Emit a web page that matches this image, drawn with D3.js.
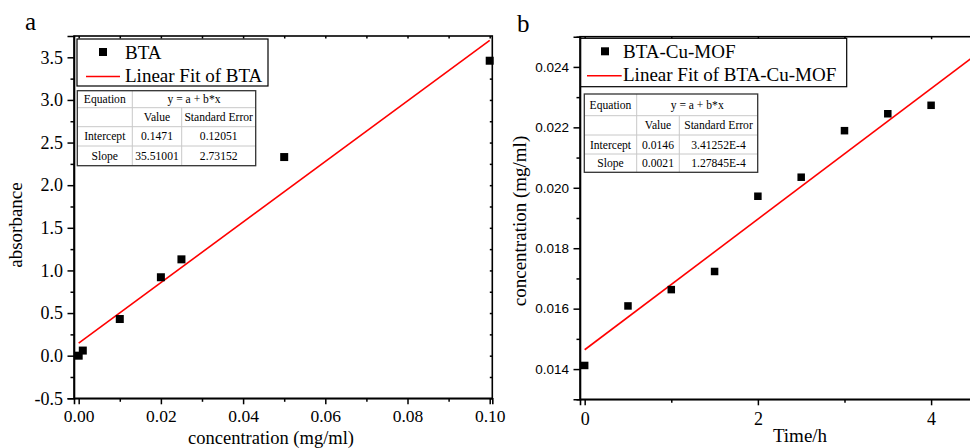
<!DOCTYPE html>
<html>
<head>
<meta charset="utf-8">
<script src="https://cdn.jsdelivr.net/npm/d3@7"></script>
<style>
  body { margin: 0; background: #fff; }
  svg { display: block; }
  .serif { font-family: "Liberation Serif", "Times New Roman", serif; }
  .sans { font-family: "Liberation Sans", Arial, sans-serif; }
</style>
</head>
<body>
<div id="chart"></div>
<script>

// panel a: BTA calibration
var concA = [0, 0.001, 0.01, 0.02, 0.025, 0.05, 0.1];
var absA = [0, 0.06, 0.43, 0.92, 1.13, 2.33, 3.46];
var fitA = [0.1471, 35.51001];          // intercept, slope
var fitRangeA = [0, 0.1];
var xTicksA = [0, 0.02, 0.04, 0.06, 0.08, 0.1];
var xMinorA = [0.01, 0.03, 0.05, 0.07, 0.09];
var yTicksA = [-0.5, 0, 0.5, 1, 1.5, 2, 2.5, 3, 3.5];
var yMinorA = [-0.25, 0.25, 0.75, 1.25, 1.75, 2.25, 2.75, 3.25];
var tableA = [
  ["Equation", "y = a + b*x"],
  ["", "Value", "Standard Error"],
  ["Intercept", "0.1471", "0.12051"],
  ["Slope", "35.51001", "2.73152"]
];

// panel b: BTA-Cu-MOF release
var timeB = [0, 0.5, 1, 1.5, 2, 2.5, 3, 3.5, 4];
var concB = [0.01412, 0.01609, 0.01663, 0.01723, 0.01972, 0.02035, 0.02189, 0.02245, 0.02273];
var fitB = [0.01464, 0.00216];
var fitRangeB = [0, 4.5];
var xTicksB = [0, 2, 4];
var xMinorB = [1, 3];
var yTicksB = [0.014, 0.016, 0.018, 0.020, 0.022, 0.024];
var yMinorB = [0.013, 0.015, 0.017, 0.019, 0.021, 0.023, 0.025];
var tableB = [
  ["Equation", "y = a + b*x"],
  ["", "Value", "Standard Error"],
  ["Intercept", "0.0146", "3.41252E-4"],
  ["Slope", "0.0021", "1.27845E-4"]
];

var svgWidth = 970;
var svgHeight = 448;

var svg = d3.select("#chart")
  .append("svg")
  .attr("width", svgWidth)
  .attr("height", svgHeight);

// scales
var xA = d3.scaleLinear().domain([-0.00114, 0.10063]).range([74, 492.3]);
var yA = d3.scaleLinear().domain([-0.5, 3.75]).range([398.3, 36]);
var xB = d3.scaleLinear().domain([-0.054, 4.5]).range([580, 974.4]);
var yB = d3.scaleLinear().domain([0.013, 0.025]).range([399.3, 36.7]);

// plain hyphen minus, like the original plot
var fmt1 = d => d3.format(".1f")(d).replace("\u2212", "-");


function drawAxes(x, y, o) {
  var g = svg.append("g");
  var x0 = x.range()[0], x1 = x.range()[1];
  var y0 = y.range()[0], y1 = y.range()[1];

  // bottom axis, major + minor
  var bottom = g.append("g")
    .attr("transform", `translate(0, ${y0})`)
    .call(d3.axisBottom(x).tickValues(o.xTicks).tickSize(6).tickPadding(o.xPad).tickFormat(o.xFormat));
  bottom.selectAll("text").attr("class", o.xFont).style("font-size", o.xSize + "px").attr("fill", "#000");
  g.append("g")
    .attr("transform", `translate(0, ${y0})`)
    .call(d3.axisBottom(x).tickValues(o.xMinor).tickSize(3.5).tickFormat(""))
    .select(".domain").remove();

  var left = g.append("g")
    .attr("transform", `translate(${x0}, 0)`)
    .call(d3.axisLeft(y).tickValues(o.yTicks).tickSize(6.5).tickPadding(o.yPad).tickFormat(o.yFormat));
  left.selectAll("text").attr("class", o.yFont).style("font-size", o.ySize + "px").attr("fill", "#000");
  g.append("g")
    .attr("transform", `translate(${x0}, 0)`)
    .call(d3.axisLeft(y).tickValues(o.yMinor).tickSize(3.5).tickFormat(""))
    .select(".domain").remove();

  // top + right, small inward ticks
  g.append("g")
    .attr("transform", `translate(0, ${y1})`)
    .call(d3.axisBottom(x).tickValues(o.xTicks.concat(o.xMinor)).tickSize(2.5).tickFormat(""))
    .select(".domain").remove();
  g.append("g")
    .attr("transform", `translate(${x1}, 0)`)
    .call(d3.axisLeft(y).tickValues(o.yTicks.concat(o.yMinor)).tickSize(2.5).tickFormat(""))
    .select(".domain").remove();

  g.append("rect")
    .attr("x", x0).attr("y", y1)
    .attr("width", x1 - x0).attr("height", y0 - y1)
    .attr("fill", "none")
    .attr("stroke", "#000")
    .attr("stroke-width", 1.6);

  g.selectAll(".tick line").attr("stroke", "#000").attr("stroke-width", 1.5);
  g.selectAll(".domain").attr("stroke", "#000").attr("stroke-width", 1.6);
}

function drawLegend(b, name) {
  var lg = svg.append("g").attr("class", "serif");
  lg.append("rect")
    .attr("x", b.x).attr("y", b.y).attr("width", b.w).attr("height", b.h)
    .attr("fill", "#fff").attr("stroke", "#000").attr("stroke-width", 1.2);
  lg.append("rect")
    .attr("x", b.sx - 4).attr("y", b.y + 13 - 4).attr("width", 8).attr("height", 8)
    .attr("fill", "#000");
  lg.append("text").attr("x", b.tx).attr("y", b.y + 19.5)
    .style("font-size", "19px").text(name);
  lg.append("line")
    .attr("x1", b.lx0).attr("x2", b.lx1).attr("y1", b.y + 37.5).attr("y2", b.y + 37.5)
    .attr("stroke", "red").attr("stroke-width", 1.6);
  lg.append("text").attr("x", b.tx).attr("y", b.y + 43)
    .style("font-size", "19px").text("Linear Fit of " + name);
}

function drawTable(rows, cols, rowsY) {
  var tg = svg.append("g").attr("class", "serif");
  var left = cols[0], right = cols[cols.length - 1];
  var top = rowsY[0], bot = rowsY[rowsY.length - 1];
  tg.append("rect")
    .attr("x", left).attr("y", top).attr("width", right - left).attr("height", bot - top)
    .attr("fill", "#fff");
  // inner grid
  rowsY.slice(1, -1).forEach(function(ry) {
    tg.append("line").attr("x1", left).attr("x2", right).attr("y1", ry).attr("y2", ry)
      .attr("stroke", "#c8c8c8").attr("stroke-width", 1);
  });
  tg.append("line").attr("x1", cols[1]).attr("x2", cols[1]).attr("y1", top).attr("y2", bot)
    .attr("stroke", "#c8c8c8").attr("stroke-width", 1);
  tg.append("line").attr("x1", cols[2]).attr("x2", cols[2]).attr("y1", rowsY[1]).attr("y2", bot)
    .attr("stroke", "#c8c8c8").attr("stroke-width", 1);
  tg.append("rect")
    .attr("x", left).attr("y", top).attr("width", right - left).attr("height", bot - top)
    .attr("fill", "none").attr("stroke", "#333").attr("stroke-width", 1.3);

  rows.forEach(function(r, i) {
    var cy = (rowsY[i] + rowsY[i + 1]) / 2;
    r.forEach(function(t, j) {
      var cx;
      if (i == 0 && j == 1) cx = (cols[1] + cols[3]) / 2;
      else cx = (cols[j] + cols[j + 1]) / 2;
      tg.append("text")
        .attr("x", cx).attr("y", cy)
        .attr("dy", "0.35em")
        .attr("text-anchor", "middle")
        .style("font-size", "11.6px")
        .text(t);
    });
  });
}


// ---------- panel a ----------
drawAxes(xA, yA, {
  xTicks: xTicksA, xMinor: xMinorA, xFormat: d3.format(".2f"), xPad: 5, xFont: "serif", xSize: 17.5,
  yTicks: yTicksA, yMinor: yMinorA, yFormat: fmt1, yPad: 4.5, yFont: "serif", ySize: 18
});

svg.append("line")
  .attr("x1", xA(fitRangeA[0])).attr("y1", yA(fitA[0] + fitA[1] * fitRangeA[0]))
  .attr("x2", xA(fitRangeA[1])).attr("y2", yA(fitA[0] + fitA[1] * fitRangeA[1]))
  .attr("stroke", "red").attr("stroke-width", 1.6);

svg.append("g").selectAll("rect")
  .data(concA)
  .enter()
  .append("rect")
  .attr("x", (d, i) => xA(d) - 4)
  .attr("y", (d, i) => yA(absA[i]) - 4)
  .attr("width", 8).attr("height", 8)
  .attr("fill", "#000");

drawLegend({x: 77, y: 39, w: 191, h: 47, sx: 103, tx: 125, lx0: 86, lx1: 120}, "BTA");
drawTable(tableA, [77.3, 132.3, 181.7, 255.7], [90.7, 107.7, 126.7, 146, 165.7]);

svg.append("text").attr("class", "serif")
  .attr("x", 25).attr("y", 30)
  .style("font-size", "25px").text("a");

svg.append("text").attr("class", "serif")
  .attr("transform", "translate(22, 225) rotate(-90)")
  .attr("text-anchor", "middle")
  .style("font-size", "19px")
  .text("absorbance");

svg.append("text").attr("class", "serif")
  .attr("x", 271).attr("y", 444)
  .attr("text-anchor", "middle")
  .style("font-size", "18.5px")
  .text("concentration (mg/ml)");


// ---------- panel b ----------
drawAxes(xB, yB, {
  xTicks: xTicksB, xMinor: xMinorB, xFormat: d3.format("d"), xPad: 7, xFont: "serif", xSize: 18,
  yTicks: yTicksB, yMinor: yMinorB, yFormat: d3.format(".3f"), yPad: 4.5, yFont: "sans", ySize: 13.5
});

svg.append("line")
  .attr("x1", xB(fitRangeB[0])).attr("y1", yB(fitB[0] + fitB[1] * fitRangeB[0]))
  .attr("x2", xB(fitRangeB[1])).attr("y2", yB(fitB[0] + fitB[1] * fitRangeB[1]))
  .attr("stroke", "red").attr("stroke-width", 1.6);

svg.append("g").selectAll("rect")
  .data(timeB)
  .enter()
  .append("rect")
  .attr("x", (d, i) => xB(d) - 3.75)
  .attr("y", (d, i) => yB(concB[i]) - 3.75)
  .attr("width", 7.5).attr("height", 7.5)
  .attr("fill", "#000");

drawLegend({x: 580.7, y: 38.3, w: 266, h: 48.4, sx: 605, tx: 623, lx0: 587, lx1: 621.7}, "BTA-Cu-MOF");
drawTable(tableB, [584.3, 636.7, 679.3, 757.7], [94, 115.7, 135, 154, 172.3]);

svg.append("text").attr("class", "serif")
  .attr("x", 517).attr("y", 31.5)
  .style("font-size", "25px").text("b");

svg.append("text").attr("class", "serif")
  .attr("transform", "translate(526, 221) rotate(-90)")
  .attr("text-anchor", "middle")
  .style("font-size", "19px")
  .text("concentration (mg/ml)");

svg.append("text").attr("class", "serif")
  .attr("x", 800).attr("y", 442)
  .attr("text-anchor", "middle")
  .style("font-size", "19px")
  .text("Time/h");

</script>
</body>
</html>
